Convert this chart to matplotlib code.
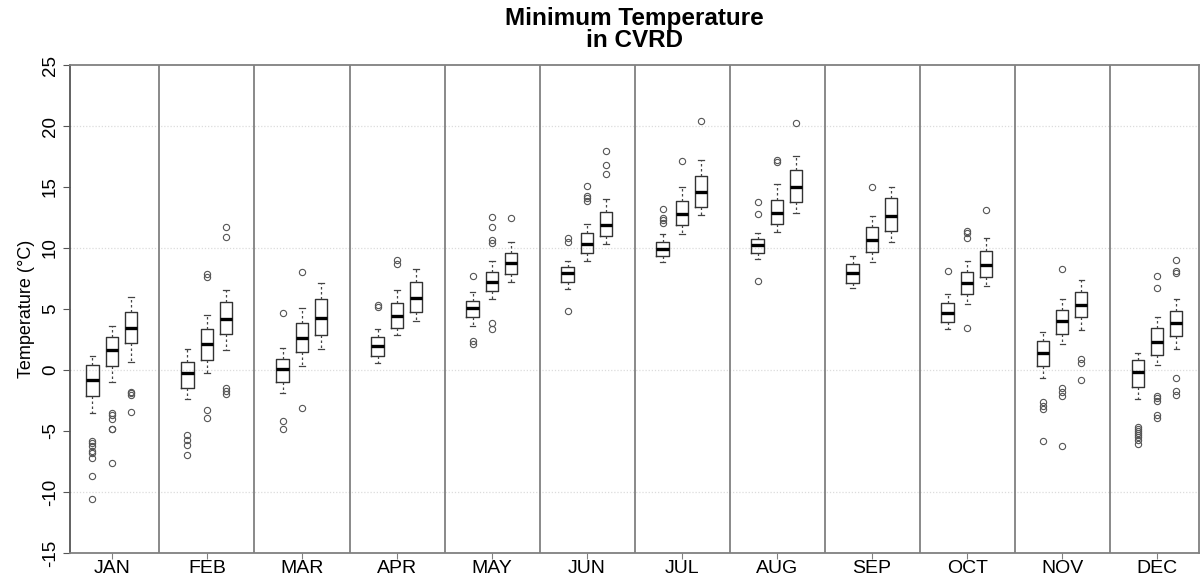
import numpy as np
import matplotlib
matplotlib.use("Agg")
import matplotlib.pyplot as plt

plt.rcParams['font.family'] = ['Liberation Sans', 'DejaVu Sans']

months = ["JAN", "FEB", "MAR", "APR", "MAY", "JUN",
          "JUL", "AUG", "SEP", "OCT", "NOV", "DEC"]

# three boxes per month: [box1, box2, box3]
whis_lo = [[-3.5, -1.0, 0.68], [-2.4, -0.25, 1.64], [-1.9, 0.36, 1.7],
           [0.55, 2.87, 4.0], [3.6, 5.82, 7.19], [6.64, 8.96, 10.3],
           [8.83, 11.17, 12.68], [9.07, 11.31, 12.87], [6.69, 8.83, 10.46],
           [3.36, 5.44, 6.86], [-0.63, 2.13, 3.3], [-2.4, 0.41, 1.72]]
q1 = [[-2.13, 0.3, 2.18], [-1.5, 0.85, 2.92], [-1.0, 1.45, 2.87],
      [1.12, 3.47, 4.78], [4.37, 6.48, 7.84], [7.24, 9.56, 10.98],
      [9.37, 11.89, 13.39], [9.56, 11.94, 13.74], [7.16, 9.67, 11.39],
      [3.9, 6.2, 7.6], [0.36, 2.95, 4.32], [-1.37, 1.26, 2.81]]
med = [[-0.82, 1.64, 3.47], [-0.27, 2.16, 4.15], [0.11, 2.6, 4.29],
       [1.97, 4.45, 5.87], [5.05, 7.2, 8.8], [7.95, 10.33, 11.9],
       [9.92, 12.81, 14.56], [10.22, 12.9, 15.0], [7.92, 10.66, 12.65],
       [4.7, 7.1, 8.58], [1.39, 3.99, 5.33], [-0.16, 2.32, 3.82]]
q3 = [[0.38, 2.73, 4.75], [0.66, 3.33, 5.6], [0.93, 3.88, 5.8],
      [2.7, 5.46, 7.24], [5.68, 8.0, 9.62], [8.47, 11.2, 12.98],
      [10.46, 13.85, 15.9], [10.74, 13.93, 16.37], [8.66, 11.69, 14.1],
      [5.49, 8.0, 9.75], [2.35, 4.92, 6.39], [0.82, 3.47, 4.84]]
whis_hi = [[1.15, 3.58, 6.0], [1.72, 4.5, 6.6], [1.78, 5.1, 7.16],
           [3.33, 6.53, 8.25], [6.37, 8.96, 10.5], [8.96, 12.0, 13.99],
           [11.15, 14.97, 17.19], [11.26, 15.25, 17.57], [9.32, 12.62, 15.03],
           [6.2, 8.93, 10.85], [3.14, 5.79, 7.4], [1.42, 4.37, 5.79]]
outliers = [
    [[-5.8, -6.0, -6.2, -6.6, -6.8, -7.2, -8.7, -10.6], [-3.5, -3.7, -4.0, -4.8, -4.85, -7.65], [-1.78, -1.9, -2.05, -3.44]],
    [[-5.33, -5.7, -6.15, -7.0], [7.84, 7.65, -3.28, -3.9], [-1.5, -1.72, -1.97, 10.9, 11.7]],
    [[4.67, -4.2, -4.8], [8.06, -3.1], []],
    [[5.33, 5.2], [9.0, 8.7], []],
    [[7.73, 2.4, 2.13], [12.54, 11.75, 10.66, 10.38, 3.82, 3.33], [12.46]],
    [[10.8, 10.5, 4.81], [15.1, 14.26, 14.07, 13.85], [17.92, 16.78, 16.04]],
    [[13.17, 12.49, 12.3, 12.07], [17.13], [20.4]],
    [[13.74, 12.79, 7.32], [17.2, 17.05], [20.22]],
    [[], [15.03], []],
    [[8.11], [11.42, 11.2, 10.8, 3.44], [13.09]],
    [[-2.65, -2.92, -3.2, -5.82], [8.28, -1.5, -1.78, -2.1, -6.23], [0.93, 0.55, -0.8]],
    [[-4.65, -4.85, -5.0, -5.15, -5.3, -5.5, -5.75, -6.1], [7.73, 6.69, -2.1, -2.32, -2.5, -3.69, -3.9], [9.0, 8.14, 7.98, -0.63, -1.7, -2.05]],
]

offsets = [-0.205, 0.0, 0.2]

stats = []
positions = []
for i in range(len(months)):
    for j in range(3):
        stats.append(dict(whislo=whis_lo[i][j], q1=q1[i][j], med=med[i][j],
                          q3=q3[i][j], whishi=whis_hi[i][j],
                          fliers=np.array(outliers[i][j])))
        positions.append(i + offsets[j])

fig = plt.figure(figsize=(12.02, 5.76), dpi=100)
ax = fig.add_axes([0.0582, 0.0399, 0.9393, 0.8472])

for yv in [-10, 0, 10, 20]:
    ax.axhline(yv, color='#dcdcdc', lw=0.9, ls=(0, (1, 1.5)), zorder=0)
for k in range(len(months) - 1):
    ax.axvline(k + 0.5, color='#808080', lw=1.3, zorder=1)

ax.bxp(stats, positions=positions, widths=0.13, capwidths=0.055,
       showfliers=True, manage_ticks=False,
       boxprops=dict(color='#333333', lw=1.0),
       medianprops=dict(color='black', lw=2.4, solid_capstyle='butt'),
       whiskerprops=dict(color='#444444', lw=0.9, ls=(0, (2, 2))),
       capprops=dict(color='#444444', lw=0.9),
       flierprops=dict(marker='o', markersize=4.5, markerfacecolor='none',
                       markeredgecolor='#555555', markeredgewidth=0.8))

ax.set_xlim(-0.442, 11.44)
ax.set_ylim(-15, 25)
ax.set_xticks(range(len(months)))
ax.set_xticklabels(months, fontsize=14)
ax.set_yticks(range(-15, 26, 5))
ax.set_yticklabels([str(v) for v in range(-15, 26, 5)], rotation=90,
                   va='center', fontsize=13.5)
ax.tick_params(axis='x', length=4, color='#808080', pad=1)
ax.tick_params(axis='y', length=5, color='#555555', pad=3)
for s in ['top', 'right', 'bottom']:
    ax.spines[s].set_color('#808080')
    ax.spines[s].set_linewidth(1.3)
ax.spines['left'].set_color('#555555')
ax.spines['left'].set_linewidth(1.3)

ax.set_ylabel("Temperature (°C)", fontsize=13, labelpad=5)
ax.set_title("Minimum Temperature\nin CVRD", fontsize=17.5, fontweight='bold',
             linespacing=0.95, pad=13)

fig.savefig("out.png", dpi=100)
